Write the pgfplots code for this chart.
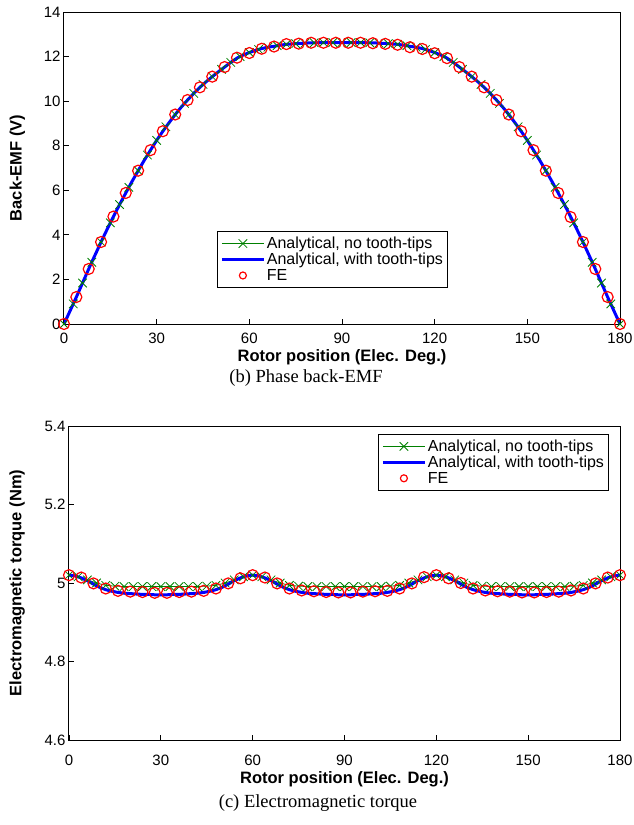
\documentclass[border=0pt]{standalone}
\usepackage{pgfplots}
\pgfplotsset{compat=1.18}
\usepackage{fontspec}
\setmainfont{Liberation Sans}
\newfontfamily\capfont{Liberation Serif}
\definecolor{mgreen}{RGB}{0,128,0}
\definecolor{mblue}{RGB}{0,0,255}
\definecolor{mred}{RGB}{255,0,0}
\pgfplotsset{
  common/.style={
    scale only axis,
    xmin=0, xmax=180,
    xtick={0,30,60,90,120,150,180},
    tick align=inside, xtick pos=bottom, ytick pos=left,
    major tick length=5pt,
    tick style={line width=0.8pt, black},
    axis line style={line width=1pt, black},
    ticklabel style={font=\fontsize{15}{17}\selectfont},
    label style={font=\fontsize{16.5}{19}\selectfont\bfseries},
    /pgf/number format/assume math mode=true,
    xlabel={Rotor position (Elec. Deg.)},
    legend cell align=left,
    legend style={draw=black, line width=1pt, font=\fontsize{16}{18}\selectfont,
      inner xsep=3pt, inner ysep=4pt, row sep=0pt,
      nodes={inner sep=1.5pt}},
    legend image code/.code={\draw[mark repeat=2,mark phase=2,#1] plot coordinates {(0pt,0pt)(21pt,0pt)(42pt,0pt)};},
  },
  greenst/.style={color=mgreen, line width=0.8pt, mark=x, mark size=6pt, mark options={line width=0.8pt}},
  bluest/.style={color=mblue, line width=3pt, no marks},
  redst/.style={color=mred, only marks, mark=o, mark size=5.5pt, mark options={line width=1.2pt},
    legend image code/.code={\draw[#1, mark size=3.5pt] plot coordinates {(21pt,0pt)};}},
}
\begin{document}
\begin{tikzpicture}[x=1pt,y=1pt]
\useasboundingbox (0,0) rectangle (633,-825);
\begin{axis}[common,
  at={(64pt,-324pt)}, anchor=south west,
  width=556pt, height=312pt,
  ymin=0, ymax=14, ytick={0,2,...,14},
  xticklabel style={yshift=-5pt},
  ylabel={Back-EMF (V)},
  xlabel style={at={(axis description cs:0.5,-0.108)}, anchor=center},
  ylabel style={at={(axis description cs:-0.084,0.5)}, anchor=center},
  legend style={at={(axis description cs:0.275,0.298)}, anchor=north west},
]
\addplot[greenst] coordinates {
(0,0) (3,0.90) (6,1.84) (9,2.77) (12,3.68) (15,4.54) (18,5.36) (21,6.13) (24,6.88) (27,7.58)
(30,8.24) (33,8.85) (36,9.40) (39,9.90) (42,10.35) (45,10.75) (48,11.10) (51,11.43) (54,11.74) (57,12.00)
(60,12.18) (63,12.32) (66,12.42) (69,12.49) (72,12.55) (75,12.58) (78,12.60) (81,12.62) (84,12.63) (87,12.63)
(90,12.63) (93,12.63) (96,12.63) (99,12.62) (102,12.60) (105,12.58) (108,12.55) (111,12.49) (114,12.42) (117,12.32)
(120,12.18) (123,12.00) (126,11.74) (129,11.43) (132,11.10) (135,10.75) (138,10.35) (141,9.90) (144,9.40) (147,8.85)
(150,8.24) (153,7.58) (156,6.88) (159,6.13) (162,5.36) (165,4.54) (168,3.68) (171,2.77) (174,1.84) (177,0.90) (180,0)
};
\addlegendentry{Analytical, no tooth-tips}
\addplot[bluest] coordinates {
(0,0) (2,0.60) (4,1.21) (6,1.84) (8,2.47) (10,3.08) (12,3.68) (14,4.26) (16,4.82) (18,5.36)
(20,5.88) (22,6.39) (24,6.88) (26,7.35) (28,7.80) (30,8.24) (32,8.65) (34,9.03) (36,9.40) (38,9.74)
(40,10.05) (42,10.35) (44,10.62) (46,10.87) (48,11.10) (50,11.32) (52,11.53) (54,11.74) (56,11.93) (58,12.07)
(60,12.18) (62,12.28) (64,12.36) (66,12.42) (68,12.46) (70,12.51) (72,12.55) (74,12.57) (76,12.59) (78,12.60)
(80,12.62) (82,12.62) (84,12.63) (86,12.63) (88,12.63) (90,12.63) (92,12.63) (94,12.63) (96,12.63) (98,12.62)
(100,12.62) (102,12.60) (104,12.59) (106,12.57) (108,12.55) (110,12.51) (112,12.46) (114,12.42) (116,12.36) (118,12.28)
(120,12.18) (122,12.07) (124,11.93) (126,11.74) (128,11.53) (130,11.32) (132,11.10) (134,10.87) (136,10.62) (138,10.35)
(140,10.05) (142,9.74) (144,9.40) (146,9.03) (148,8.65) (150,8.24) (152,7.80) (154,7.35) (156,6.88) (158,6.39)
(160,5.88) (162,5.36) (164,4.82) (166,4.26) (168,3.68) (170,3.08) (172,2.47) (174,1.84) (176,1.21) (178,0.60) (180,0)
};
\addlegendentry{Analytical, with tooth-tips}
\addplot[redst] coordinates {
(0,0) (4,1.21) (8,2.47) (12,3.68) (16,4.82) (20,5.88) (24,6.88) (28,7.80) (32,8.65) (36,9.40)
(40,10.05) (44,10.62) (48,11.10) (52,11.53) (56,11.95) (60,12.16) (64,12.35) (68,12.45) (72,12.56) (76,12.58)
(80,12.62) (84,12.62) (88,12.62) (92,12.62) (96,12.62) (100,12.60) (104,12.57) (108,12.53) (112,12.42) (116,12.34)
(120,12.15) (124,11.93) (128,11.53) (132,11.10) (136,10.62) (140,10.05) (144,9.40) (148,8.65) (152,7.80) (156,6.88)
(160,5.88) (164,4.80) (168,3.68) (172,2.47) (176,1.21) (180,0)
};
\addlegendentry{FE}
\end{axis}

\node[font=\capfont\fontsize{18.5}{21}\selectfont] at (306,-378) {(b) Phase back-EMF};

\begin{axis}[common,
  at={(69pt,-740pt)}, anchor=south west,
  width=551pt, height=314pt,
  ymin=4.6, ymax=5.4, ytick={4.6,4.8,5,5.2,5.4},
  yticklabel style={/pgf/number format/fixed, /pgf/number format/precision=1},
  xticklabel style={yshift=-11pt},
  ylabel={Electromagnetic torque (Nm)},
  xlabel style={at={(axis description cs:0.5,-0.124)}, anchor=center},
  ylabel style={at={(axis description cs:-0.094,0.5)}, anchor=center},
  legend style={at={(axis description cs:0.98,0.975)}, anchor=north east},
]
\addplot[greenst] coordinates {
(0,5.020) (3,5.016) (6,5.008) (9,5.000) (12,4.994) (15,4.992) (18,4.991) (21,4.991) (24,4.991) (27,4.991)
(30,4.991) (33,4.991) (36,4.991) (39,4.991) (42,4.991) (45,4.992) (48,4.994) (51,5.000) (54,5.008) (57,5.016)
(60,5.020) (63,5.016) (66,5.008) (69,5.000) (72,4.994) (75,4.992) (78,4.991) (81,4.991) (84,4.991) (87,4.991)
(90,4.991) (93,4.991) (96,4.991) (99,4.991) (102,4.991) (105,4.992) (108,4.994) (111,5.000) (114,5.008) (117,5.016)
(120,5.020) (123,5.016) (126,5.008) (129,5.000) (132,4.994) (135,4.992) (138,4.991) (141,4.991) (144,4.991) (147,4.991)
(150,4.991) (153,4.991) (156,4.991) (159,4.991) (162,4.991) (165,4.992) (168,4.994) (171,5.000) (174,5.008) (177,5.016) (180,5.020)
};
\addlegendentry{Analytical, no tooth-tips}
\addplot[bluest] coordinates {
(0,5.020) (2,5.018) (4,5.013) (6,5.006) (8,4.997) (10,4.989) (12,4.983) (14,4.979) (16,4.976) (18,4.974)
(20,4.973) (22,4.972) (24,4.971) (26,4.971) (28,4.970) (30,4.970) (32,4.970) (34,4.971) (36,4.971) (38,4.972)
(40,4.973) (42,4.974) (44,4.976) (46,4.979) (48,4.983) (50,4.989) (52,4.997) (54,5.006) (56,5.013) (58,5.018)
(60,5.020) (62,5.018) (64,5.013) (66,5.006) (68,4.997) (70,4.989) (72,4.983) (74,4.979) (76,4.976) (78,4.974)
(80,4.973) (82,4.972) (84,4.971) (86,4.971) (88,4.970) (90,4.970) (92,4.970) (94,4.971) (96,4.971) (98,4.972)
(100,4.973) (102,4.974) (104,4.976) (106,4.979) (108,4.983) (110,4.989) (112,4.997) (114,5.006) (116,5.013) (118,5.018)
(120,5.020) (122,5.018) (124,5.013) (126,5.006) (128,4.997) (130,4.989) (132,4.983) (134,4.979) (136,4.976) (138,4.974)
(140,4.973) (142,4.972) (144,4.971) (146,4.971) (148,4.970) (150,4.970) (152,4.970) (154,4.971) (156,4.971) (158,4.972)
(160,4.973) (162,4.974) (164,4.976) (166,4.979) (168,4.983) (170,4.989) (172,4.997) (174,5.006) (176,5.013) (178,5.018) (180,5.020)
};
\addlegendentry{Analytical, with tooth-tips}
\addplot[redst] coordinates {
(0,5.020) (4,5.014) (8,4.999) (12,4.986) (16,4.980) (20,4.978) (24,4.977) (28,4.975) (32,4.975) (36,4.977)
(40,4.978) (44,4.980) (48,4.986) (52,4.999) (56,5.012) (60,5.020) (64,5.014) (68,4.999) (72,4.986) (76,4.981)
(80,4.979) (84,4.977) (88,4.976) (92,4.976) (96,4.978) (100,4.979) (104,4.980) (108,4.986) (112,4.999) (116,5.015)
(120,5.020) (124,5.012) (128,5.000) (132,4.986) (136,4.981) (140,4.979) (144,4.978) (148,4.976) (152,4.976) (156,4.977)
(160,4.978) (164,4.981) (168,4.986) (172,4.999) (176,5.014) (180,5.020)
};
\addlegendentry{FE}
\end{axis}

\node[font=\capfont\fontsize{18.5}{21}\selectfont] at (318,-803) {(c) Electromagnetic torque};
\end{tikzpicture}
\end{document}
